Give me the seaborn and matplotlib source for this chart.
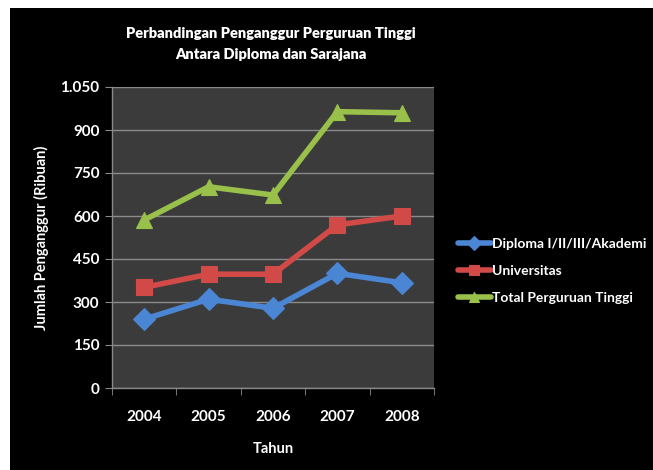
import matplotlib
matplotlib.use("Agg")
import matplotlib.pyplot as plt
import matplotlib.patches as mpatches
import seaborn as sns
import pandas as pd

# data (ribuan)
tahun = ["2004", "2005", "2006", "2007", "2008"]
diploma = [240, 310, 278, 400, 367]
universitas = [351, 397, 397, 569, 600]
total = [586, 702, 673, 964, 960]
seri = ["Diploma I/II/III/Akademi", "Universitas", "Total Perguruan Tinggi"]
y_ticks = [0, 150, 300, 450, 600, 750, 900, 1050]

rows = []
for nama, nilai in zip(seri, [diploma, universitas, total]):
    for t, v in zip(tahun, nilai):
        rows.append({"Tahun": t, "Nilai": v, "Seri": nama})
df = pd.DataFrame(rows)

sns.set_style("dark")
plt.rcParams["font.family"] = ["Lato", "DejaVu Sans"]

fig = plt.figure(figsize=(6.53, 4.70), dpi=100)
fig.patch.set_facecolor("white")
# black chart area (small white margin on top/left like the screenshot)
fig.patches.append(mpatches.Rectangle((10 / 653, 0), 1, 462 / 470, transform=fig.transFigure,
                                      facecolor="black", edgecolor="none", zorder=-10))
ax = fig.add_axes([112 / 653, 1 - 388 / 470, 322 / 653, 301 / 470])
ax.set_zorder(1)
ax.set_facecolor("#3b3b3b")

warna = {"Diploma I/II/III/Akademi": "#4a86d4",
         "Universitas": "#d24a48",
         "Total Perguruan Tinggi": "#98c04a"}
penanda = {"Diploma I/II/III/Akademi": "D",
           "Universitas": "s",
           "Total Perguruan Tinggi": "^"}

sns.lineplot(data=df, x="Tahun", y="Nilai", hue="Seri", style="Seri",
             palette=warna, markers=penanda, dashes=False, linewidth=4,
             markersize=11.5, markeredgewidth=0.8, ax=ax, sort=False)
for ln in ax.lines:
    ln.set_markeredgecolor(ln.get_color())
    ln.set_solid_capstyle("round")

ax.set_xlim(-0.5, 4.5)
ax.set_ylim(0, 1050)
ax.set_yticks(y_ticks)
ax.set_yticklabels([f"{v:,}".replace(",", ".") for v in y_ticks])
ax.set_xticks(range(len(tahun)))
ax.set_xticklabels(tahun)
ax.set_xticks([i - 0.5 for i in range(len(tahun) + 1)], minor=True)

ax.grid(axis="y", color="#8a8a8a", linewidth=1)
ax.grid(axis="x", visible=False)
ax.set_axisbelow(True)
for s in ["top", "right"]:
    ax.spines[s].set_visible(False)
for s in ["left", "bottom"]:
    ax.spines[s].set_visible(True)
    ax.spines[s].set_color("#8a8a8a")
    ax.spines[s].set_linewidth(1)

ax.tick_params(axis="y", which="major", left=True, length=5, color="#8a8a8a",
               labelcolor="white", labelsize=11, pad=4)
ax.tick_params(axis="x", which="major", bottom=False, labelcolor="white",
               labelsize=11, pad=12)
ax.tick_params(axis="x", which="minor", bottom=True, length=5, color="#8a8a8a")
for lbl in ax.get_xticklabels() + ax.get_yticklabels():
    lbl.set_fontweight("bold")

ax.set_xlabel("Tahun", color="white", fontsize=10.5, fontweight="bold", labelpad=13)
ax.set_ylabel("Jumlah Penganggur (Ribuan)", color="white", fontsize=10.5,
              fontweight="bold", labelpad=8)

fig.text(271 / 653, 1 - 44 / 470, "Perbandingan Penganggur Perguruan Tinggi\nAntara Diploma dan Sarajana",
         ha="center", va="center", color="white", fontsize=10.5, fontweight="heavy",
         linespacing=1.65)

handles, labels = ax.get_legend_handles_labels()
ax.legend(handles, labels, loc="center left", bbox_to_anchor=(452 / 653, 1 - 271 / 470),
          bbox_transform=fig.transFigure, frameon=False, labelcolor="white",
          prop={"size": 10, "weight": "bold"}, handlelength=2.4,
          handletextpad=0.05, labelspacing=1.1, markerscale=0.65, borderaxespad=0)

fig.savefig("out.png", dpi=100, facecolor=fig.get_facecolor())
